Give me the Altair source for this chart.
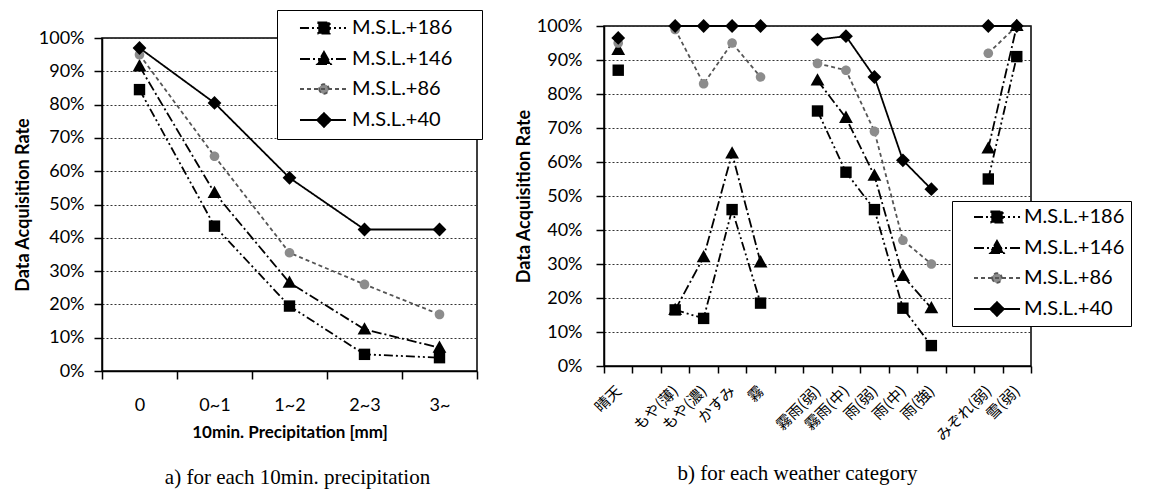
import json
import altair as alt
import pandas as pd

# ---------------- data ----------------
series = ["M.S.L.+186", "M.S.L.+146", "M.S.L.+86", "M.S.L.+40"]

precip_labels = ["0", "0~1", "1~2", "2~3", "3~"]
precip_186 = [0.845, 0.435, 0.195, 0.05, 0.04]
precip_146 = [0.915, 0.535, 0.265, 0.125, 0.07]
precip_86 = [0.95, 0.645, 0.355, 0.26, 0.17]
precip_40 = [0.97, 0.805, 0.58, 0.425, 0.425]

weather_labels = ["晴天", "", "もや(薄)", "もや(濃)", "かすみ", "霧", "",
                  "霧雨(弱)", "霧雨(中)", "雨(弱)", "雨(中)", "雨(強)", "",
                  "みぞれ(弱)", "雪(弱)"]
weather_186 = [0.87, None, 0.165, 0.14, 0.46, 0.185, None, 0.75, 0.57, 0.46, 0.17, 0.06, None, 0.55, 0.91]
weather_146 = [0.93, None, 0.165, 0.32, 0.625, 0.305, None, 0.84, 0.73, 0.56, 0.265, 0.17, None, 0.64, 1.0]
weather_86 = [0.95, None, 0.99, 0.83, 0.95, 0.85, None, 0.89, 0.87, 0.69, 0.37, 0.30, None, 0.92, 1.0]
weather_40 = [0.965, None, 1.0, 1.0, 1.0, 1.0, None, 0.96, 0.97, 0.85, 0.605, 0.52, None, 1.0, 1.0]

y_ticks = [i / 10 for i in range(11)]

# ---------------- styles ----------------
FONT = "Lato"
line_colors = ["#000000", "#000000", "#555555", "#000000"]
fill_colors = ["#000000", "#000000", "#8c8c8c", "#000000"]
dashes = [[9, 3, 2, 3, 2, 3], [10, 3, 2, 3], [4, 3], [1, 0]]


def square(cx):
    return f"M{cx-0.95:.2f},-0.95H{cx+0.95:.2f}V0.95H{cx-0.95:.2f}Z"


def triangle(cx):
    return f"M{cx:.2f},-1.2L{cx+1.15:.2f},0.85H{cx-1.15:.2f}Z"


def circle(cx):
    return (f"M{cx-0.8:.2f},0A0.8,0.8,0,1,0,{cx+0.8:.2f},0"
            f"A0.8,0.8,0,1,0,{cx-0.8:.2f},0Z")


def diamond(cx):
    return f"M{cx:.2f},-1.15L{cx+1.15:.2f},0L{cx:.2f},1.15L{cx-1.15:.2f},0Z"


marker_makers = [square, triangle, circle, diamond]
marker_paths = [m(0) for m in marker_makers]


def legend_paths(x0, cx, x1, reach=None):
    tail = f"M{reach},0" if reach is not None else ""
    return [f"M{x0},0H{x1}" + m(cx) + tail for m in marker_makers]


def make_rows(values_list):
    rows = []
    for name, vals in zip(series, values_list):
        seg = 0
        gap = True
        for i, v in enumerate(vals):
            if v is None:
                gap = True
                continue
            if gap:
                seg += 1
                gap = False
            rows.append({"pos": i, "rate": v, "series": name, "seg": f"{name}#{seg}"})
    return pd.DataFrame(rows)


def panel(values_list, labels, width, height, x_axis_opts, caption, caption_dx,
          caption_offset, legend_opts, leg_paths, y_label_padding, y_title_padding):
    df = make_rows(values_list)
    n = len(labels)
    ticks = [i - 0.5 for i in range(n + 1)]
    centers = list(range(n))
    label_expr = ("datum.value % 1 == 0 ? " + json.dumps(labels, ensure_ascii=False)
                  + "[datum.value] : ''")
    x_axis = alt.Axis(
        values=sorted(ticks + centers),
        labelExpr=label_expr,
        tickOpacity={"condition": {"test": "datum.value % 1 == 0", "value": 0}, "value": 1},
        grid=False,
        labelOverlap=False,
        labelFlush=False,
        labelColor="black",
        **x_axis_opts,
    )
    x = alt.X("pos:Q", scale=alt.Scale(domain=[-0.5, n - 0.5], nice=False, zero=False),
              axis=x_axis, title=x_axis_opts.get("title"))
    y = alt.Y("rate:Q", scale=alt.Scale(domain=[0, 1], nice=False, zero=True),
              axis=alt.Axis(values=y_ticks, format=".0%", title="Data Acquisition Rate",
                            titleFontWeight="bold", titleFontSize=18, titleFont=FONT,
                            labelFontSize=18, labelFont=FONT, tickSize=8,
                            labelPadding=y_label_padding, titlePadding=y_title_padding,
                            grid=True, labelFlush=False, labelOverlap=False))

    base = alt.Chart(df)
    lines = base.mark_line(strokeWidth=1.8).encode(
        x=x, y=y,
        color=alt.Color("series:N", scale=alt.Scale(domain=series, range=line_colors), legend=None),
        strokeDash=alt.StrokeDash("series:N", scale=alt.Scale(domain=series, range=dashes), legend=None),
        detail="seg:N",
    )
    points = base.mark_point(filled=True, opacity=1, size=144, strokeWidth=0).encode(
        x=x, y=y,
        fill=alt.Fill("series:N", scale=alt.Scale(domain=series, range=fill_colors), legend=None),
        shape=alt.Shape("series:N", scale=alt.Scale(domain=series, range=marker_paths), legend=None),
    )

    def leg():
        return alt.Legend(
            title=None, orient="none", direction="vertical", fillColor="white",
            strokeColor="black", cornerRadius=0, labelFont=FONT, labelFontSize=20,
            labelColor="black", symbolSize=144, symbolStrokeWidth=1.8,
            symbolOpacity=1, rowPadding=10, **legend_opts,
        )

    legend_layer = base.mark_point(filled=True).transform_filter("false").encode(
        x=x, y=y,
        shape=alt.Shape("series:N", scale=alt.Scale(domain=series, range=leg_paths), legend=leg()),
        fill=alt.Fill("series:N", scale=alt.Scale(domain=series, range=fill_colors), legend=leg()),
        stroke=alt.Stroke("series:N", scale=alt.Scale(domain=series, range=line_colors), legend=leg()),
        strokeDash=alt.StrokeDash("series:N", scale=alt.Scale(domain=series, range=dashes), legend=leg()),
    )

    return alt.layer(lines, points, legend_layer).resolve_scale(
        shape="independent", fill="independent", stroke="independent", strokeDash="independent"
    ).properties(
        width=width, height=height,
        title=alt.TitleParams(text=caption, orient="bottom", font="Liberation Serif",
                              fontSize=21, fontWeight="normal", color="black",
                              offset=caption_offset, frame="group", anchor="middle",
                              dx=caption_dx),
    )


left = panel(
    [precip_186, precip_146, precip_86, precip_40], precip_labels, 375, 333,
    dict(title="10min. Precipitation [mm]", titleFontWeight="bold", titleFontSize=17,
         titleFont=FONT, labelFont=FONT, labelFontSize=18, labelAngle=0,
         tickSize=8, labelPadding=17, titlePadding=10),
    "a) for each 10min. precipitation", 8, 27,
    dict(legendX=175, legendY=-28, padding=8, labelOffset=47),
    legend_paths(0.83, 4.83, 8.5, reach=29.1), 10, 6,
)

right = panel(
    [weather_186, weather_146, weather_86, weather_40], weather_labels, 427, 340,
    dict(title=None, labelFont="Noto Sans CJK JP", labelFontSize=15, labelAngle=315,
         labelAlign="right", labelBaseline="middle", tickSize=7, labelPadding=15),
    "b) for each weather category", -20, 20,
    dict(legendX=348, legendY=175, padding=6, labelOffset=46),
    legend_paths(1.0, 4.83, 8.67), 14, 3,
)

# a thin invisible strip that lets the left panel sit lower than the right one
spacer = alt.Chart(pd.DataFrame({"k": [0]})).mark_point(opacity=0, size=1).encode(
    x=alt.value(0), y=alt.value(0.5)
).properties(width=1, height=1, view=alt.ViewConfig(stroke="transparent"))

chart = alt.hconcat(
    alt.vconcat(spacer, left, spacing=-20),
    right,
    spacing=30,
).properties(
    padding={"top": 0, "left": 5, "right": 0, "bottom": 0}
).configure_view(stroke="black", strokeWidth=1.5).configure_axis(
    domainColor="black", domainWidth=1.5, tickColor="black", tickWidth=1.5,
    gridColor="#333333", gridDash=[2, 2], gridWidth=1, labelColor="black",
    titleColor="black",
)

chart.save("out.html", embed_options={"renderer": "svg", "actions": False})
